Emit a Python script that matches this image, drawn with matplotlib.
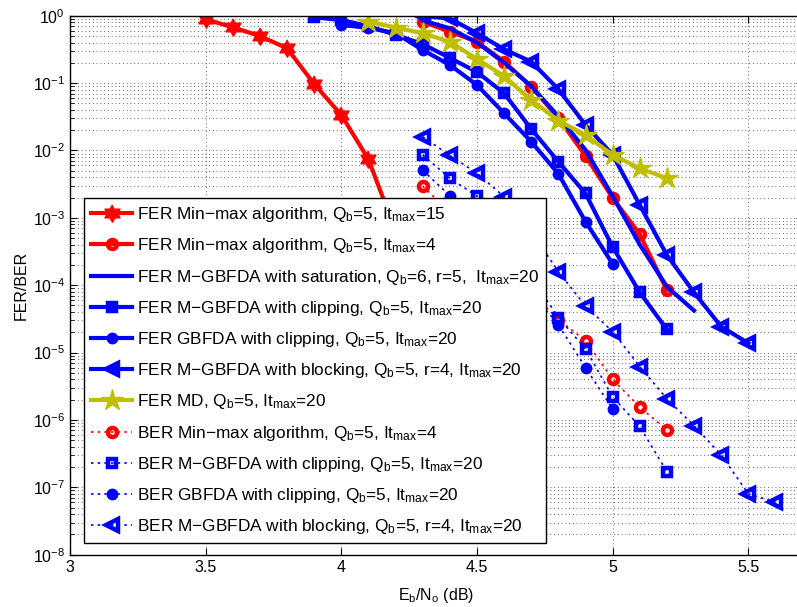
import numpy as np
import matplotlib
matplotlib.use('Agg')
import matplotlib.pyplot as plt
from matplotlib.path import Path

plt.rcParams['font.family'] = 'Liberation Sans'
plt.rcParams['mathtext.fontset'] = 'custom'
plt.rcParams['mathtext.rm'] = 'Liberation Sans'
plt.rcParams['mathtext.it'] = 'Liberation Sans:italic'
plt.rcParams['mathtext.bf'] = 'Liberation Sans:bold'

# ---- data (Eb/No in dB, error rates) ----
snr_mm15 = [3.5, 3.6, 3.7, 3.8, 3.9, 4.0, 4.1, 4.2, 4.3]
fer_mm15 = [0.885, 0.673, 0.50, 0.328, 0.097, 0.0336, 0.0074, 6.3e-4, 4e-5]

snr_mm4 = [4.3, 4.4, 4.5, 4.6, 4.7, 4.8, 4.9, 5.0, 5.1, 5.2]
fer_mm4 = [0.815, 0.58, 0.41, 0.208, 0.0885, 0.0303, 0.0083, 0.00197, 5.7e-4, 8.4e-5]

snr_sat = [4.3, 4.4, 4.5, 4.6, 4.7, 4.8, 4.9, 5.0, 5.1, 5.2, 5.3]
fer_sat = [0.85, 0.65, 0.40, 0.20, 0.09, 0.032, 0.0102, 0.0021, 4e-4, 9.5e-5, 4.2e-5]

snr_mclip = [3.9, 4.0, 4.1, 4.2, 4.3, 4.4, 4.5, 4.6, 4.7, 4.8, 4.9, 5.0, 5.1, 5.2]
fer_mclip = [0.946, 0.863, 0.70, 0.52, 0.38, 0.236, 0.146, 0.0706, 0.0208, 0.0068,
             0.0023, 3.7e-4, 7.8e-5, 2.2e-5]

snr_gclip = [4.0, 4.1, 4.2, 4.3, 4.4, 4.5, 4.6, 4.7, 4.8, 4.9, 5.0]
fer_gclip = [0.73, 0.66, 0.55, 0.31, 0.186, 0.0937, 0.0356, 0.0135, 0.0045, 8.8e-4, 2.07e-4]

snr_block = [4.3, 4.4, 4.5, 4.6, 4.7, 4.8, 4.9, 5.0, 5.1, 5.2, 5.3, 5.4, 5.5]
fer_block = [0.99, 0.91, 0.55, 0.317, 0.208, 0.081, 0.0239, 0.0086, 0.00155, 2.8e-4,
             7.8e-5, 2.43e-5, 1.38e-5]

snr_md = [4.1, 4.2, 4.3, 4.4, 4.5, 4.6, 4.7, 4.8, 4.9, 5.0, 5.1, 5.2]
fer_md = [0.815, 0.668, 0.548, 0.411, 0.228, 0.127, 0.056, 0.0277, 0.017, 0.0086, 0.00544, 0.00387]

snr_ber_mm4 = [4.3, 4.4, 4.5, 4.6, 4.7, 4.8, 4.9, 5.0, 5.1, 5.2]
ber_mm4 = [0.00297, 1.2e-3, 4.8e-4, 1.9e-4, 7.8e-5, 3.09e-5, 1.5e-5, 4.0e-6, 1.55e-6, 7.1e-7]

snr_ber_mclip = [4.3, 4.4, 4.5, 4.6, 4.7, 4.8, 4.9, 5.0, 5.1, 5.2]
ber_mclip = [0.0086, 0.00387, 0.0021, 5.3e-4, 1.33e-4, 3.3e-5, 1.14e-5, 2.2e-6, 8e-7, 1.7e-7]

snr_ber_gclip = [4.3, 4.4, 4.5, 4.6, 4.7, 4.8, 4.9, 5.0]
ber_gclip = [0.00508, 0.00213, 7.1e-4, 2.34e-4, 7.8e-5, 2.58e-5, 6.0e-6, 1.45e-6]

snr_ber_block = [4.3, 4.4, 4.5, 4.6, 4.7, 4.8, 4.9, 5.0, 5.1, 5.2, 5.3, 5.4, 5.5, 5.6]
ber_block = [0.016, 0.00843, 0.00459, 0.00206, 6.3e-4, 1.59e-4, 4.9e-5, 2.05e-5, 6.2e-6,
             2.06e-6, 8.2e-7, 3.03e-7, 8.0e-8, 6.0e-8]

xtick_vals = [3, 3.5, 4, 4.5, 5, 5.5]
xtick_labels = ['3', '3.5', '4', '4.5', '5', '5.5']

QB = 'Q$\\mathregular{_b}$'
IT = 'It$\\mathregular{_{max}}$'
MM = 'Min\u2212max'
MG = 'M\u2212GBFDA'
labels = [
    f'FER {MM} algorithm, {QB}=5, {IT}=15',
    f'FER {MM} algorithm, {QB}=5, {IT}=4',
    f'FER {MG} with saturation, {QB}=6, r=5,  {IT}=20',
    f'FER {MG} with clipping, {QB}=5, {IT}=20',
    f'FER GBFDA with clipping, {QB}=5, {IT}=20',
    f'FER {MG} with blocking, {QB}=5, r=4, {IT}=20',
    f'FER MD, {QB}=5, {IT}=20',
    f'BER {MM} algorithm, {QB}=5, {IT}=4',
    f'BER {MG} with clipping, {QB}=5, {IT}=20',
    f'BER GBFDA with clipping, {QB}=5, {IT}=20',
    f'BER {MG} with blocking, {QB}=5, r=4, {IT}=20',
]

# hexagram marker like matlab 'h'
ang = np.pi / 2 + np.arange(12) * np.pi / 6
rad = np.where(np.arange(12) % 2 == 0, 1.0, 1 / np.sqrt(3))
hexagram = Path(np.column_stack([rad * np.cos(ang), rad * np.sin(ang)]), closed=False)

RED = (1, 0, 0)
BLUE = (0, 0, 1)
OLIVE = (0.75, 0.75, 0)
LW = 3
DOT = (0, (1.5, 2.5))

fig = plt.figure(figsize=(7.97, 6.07), dpi=100)
ax = fig.add_axes([0.0878, 0.0862, 0.9192, 0.8879])

ax.plot(snr_mm15, fer_mm15, '-', color=RED, lw=LW, marker=hexagram, ms=12.5,
        mfc=RED, mec=RED, label=labels[0])
ax.plot(snr_mm4, fer_mm4, '-', color=RED, lw=LW, marker='o', ms=6.5,
        mfc='none', mec=RED, mew=3.2, label=labels[1])
ax.plot(snr_sat, fer_sat, '-', color=BLUE, lw=LW, label=labels[2])
ax.plot(snr_mclip, fer_mclip, '-', color=BLUE, lw=LW, marker='s', ms=5.5,
        mfc='none', mec=BLUE, mew=3.2, label=labels[3])
ax.plot(snr_gclip, fer_gclip, '-', color=BLUE, lw=LW, marker='o', ms=7.5,
        mfc=BLUE, mec=BLUE, label=labels[4])
ax.plot(snr_block, fer_block, '-', color=BLUE, lw=LW, marker='<', ms=9,
        mfc='none', mec=BLUE, mew=3.2, label=labels[5])
ax.plot(snr_md, fer_md, '-', color=OLIVE, lw=LW, marker='*', ms=16,
        mfc=OLIVE, mec=OLIVE, label=labels[6])
ax.plot(snr_ber_mm4, ber_mm4, color=RED, lw=1.2, ls=DOT, marker='o', ms=6.5,
        mfc='none', mec=RED, mew=3.2, label=labels[7])
ax.plot(snr_ber_mclip, ber_mclip, color=BLUE, lw=1.2, ls=DOT, marker='s', ms=5.5,
        mfc='none', mec=BLUE, mew=3.2, label=labels[8])
ax.plot(snr_ber_gclip, ber_gclip, color=BLUE, lw=1.2, ls=DOT, marker='o', ms=7.5,
        mfc=BLUE, mec=BLUE, label=labels[9])
ax.plot(snr_ber_block, ber_block, color=BLUE, lw=1.2, ls=DOT, marker='<', ms=9,
        mfc='none', mec=BLUE, mew=3.2, label=labels[10])

ax.set_yscale('log')
ax.set_xlim(3, 5.7)
ax.set_ylim(1e-8, 1)
ax.set_xticks(xtick_vals)
ax.set_xticklabels(xtick_labels)
ax.set_yticks([10.0 ** k for k in range(-8, 1)])

grid_style = dict(ls=(0, (1, 3.5)), color='0.2', lw=0.6)
ax.grid(True, which='major', axis='both', **grid_style)
ax.grid(True, which='minor', axis='y', **grid_style)
ax.tick_params(which='both', direction='in', top=True, right=True, labelsize=11.5)
ax.tick_params(which='major', length=5)
ax.tick_params(which='minor', length=3)
for s in ax.spines.values():
    s.set_linewidth(1.0)

ax.set_xlabel('E$\\mathregular{_b}$/N$\\mathregular{_o}$ (dB)', fontsize=11.5, labelpad=8)
ax.set_ylabel('FER/BER', fontsize=11.5)
ax.yaxis.set_label_coords(-0.056, 0.5)

leg = ax.legend(loc='lower left', bbox_to_anchor=(84 / 797, 1 - 543.3 / 607),
                bbox_transform=fig.transFigure, borderaxespad=0, fontsize=12.4,
                handlelength=2.4, handletextpad=0.3, borderpad=0.4,
                labelspacing=0.71, fancybox=False, framealpha=1, numpoints=1)
leg.get_frame().set_edgecolor('black')
leg.get_frame().set_linewidth(1.0)

fig.savefig('out.png', dpi=100)
